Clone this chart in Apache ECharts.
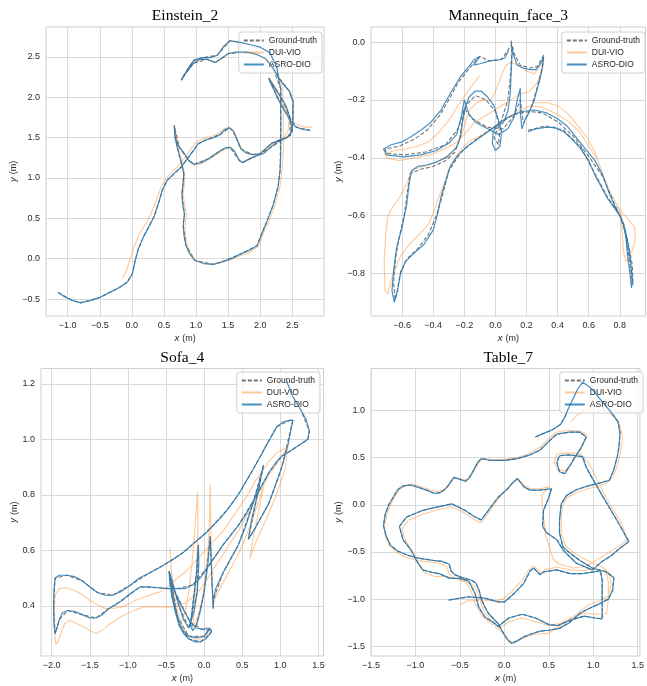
<!DOCTYPE html>
<html><head><meta charset="utf-8">
<script src="https://cdn.jsdelivr.net/npm/echarts@6/dist/echarts.min.js"></script>
<style>html,body{margin:0;padding:0;background:#fff}#c{width:647px;height:686px}</style>
</head><body><div id="c"></div>
<script>
// ---------------- Einstein_2 ----------------
const einsteinAsro = [[-1.15,-0.42],[-1.05,-0.47],[-0.92,-0.52],[-0.8,-0.545],[-0.65,-0.52],[-0.5,-0.48],[-0.35,-0.42],[-0.2,-0.36],[-0.07,-0.29],[0.01,-0.18],[0.05,-0.03],[0.1,0.12],[0.18,0.27],[0.27,0.4],[0.35,0.53],[0.42,0.7],[0.48,0.86],[0.55,0.97],[0.65,1.05],[0.75,1.12],[0.85,1.22],[0.95,1.33],[1.03,1.42],[1.15,1.47],[1.28,1.5],[1.38,1.54],[1.45,1.6],[1.52,1.62],[1.58,1.58],[1.64,1.47],[1.7,1.36],[1.78,1.31],[1.88,1.29],[2.0,1.3],[2.08,1.36],[2.18,1.43],[2.3,1.47],[2.42,1.5],[2.5,1.58],[2.51,1.75],[2.51,1.95],[2.45,2.08],[2.35,2.17],[2.28,2.25],[2.26,2.37],[2.15,2.55],[2.0,2.62],[1.85,2.65],[1.69,2.68],[1.53,2.7],[1.43,2.63],[1.33,2.52],[1.22,2.49],[1.1,2.49],[0.97,2.46],[0.88,2.36],[0.82,2.28],[0.77,2.21],[0.8,2.26],[0.88,2.34],[0.96,2.42],[1.06,2.47],[1.17,2.47],[1.3,2.43],[1.4,2.48],[1.5,2.54],[1.62,2.56],[1.79,2.56],[1.95,2.53],[2.08,2.48],[2.2,2.36],[2.28,2.25],[2.32,2.1],[2.32,1.9],[2.32,1.6],[2.32,1.3],[2.31,1.1],[2.28,0.9],[2.2,0.66],[2.1,0.45],[2.02,0.3],[1.95,0.16],[1.82,0.1],[1.7,0.06],[1.55,0.0],[1.4,-0.04],[1.27,-0.07],[1.12,-0.06],[0.98,-0.02],[0.9,0.06],[0.84,0.17],[0.81,0.3],[0.8,0.42],[0.82,0.55],[0.79,0.68],[0.78,0.8],[0.8,0.95],[0.81,1.05],[0.77,1.2],[0.71,1.37],[0.67,1.5],[0.66,1.65],[0.68,1.48],[0.74,1.38],[0.82,1.3],[0.88,1.22],[0.97,1.17],[1.08,1.19],[1.2,1.24],[1.32,1.31],[1.45,1.37],[1.53,1.38],[1.6,1.33],[1.67,1.22],[1.72,1.19],[1.82,1.23],[1.93,1.27],[2.05,1.3],[2.15,1.37],[2.27,1.45],[2.38,1.49],[2.47,1.53],[2.49,1.62],[2.46,1.76],[2.4,1.9],[2.3,2.03],[2.2,2.15],[2.13,2.24],[2.16,2.18],[2.21,2.1],[2.28,1.97],[2.36,1.86],[2.46,1.72],[2.56,1.63],[2.66,1.6],[2.78,1.59]];
const einsteinGT = [[-1.15,-0.42],[-0.92,-0.52],[-0.8,-0.55],[-0.5,-0.48],[-0.2,-0.36],[-0.07,-0.29],[0.01,-0.18],[0.05,-0.03],[0.1,0.12],[0.18,0.27],[0.35,0.53],[0.42,0.7],[0.48,0.86],[0.55,0.97],[0.75,1.12],[0.95,1.33],[1.03,1.42],[1.15,1.47],[1.38,1.54],[1.52,1.62],[1.58,1.58],[1.7,1.36],[1.88,1.29],[2.0,1.3],[2.18,1.43],[2.42,1.5],[2.5,1.58],[2.51,1.95],[2.45,2.08],[2.28,2.25],[2.26,2.37],[2.15,2.55],[2.0,2.62],[1.69,2.68],[1.53,2.7],[1.33,2.52],[1.1,2.49],[0.97,2.46],[0.82,2.28],[0.77,2.21],[0.88,2.34],[0.96,2.42],[1.17,2.47],[1.3,2.43],[1.5,2.54],[1.79,2.56],[2.08,2.48],[2.2,2.36],[2.32,2.1],[2.32,1.6],[2.31,1.1],[2.28,0.9],[2.2,0.66],[2.02,0.3],[1.95,0.16],[1.7,0.06],[1.4,-0.04],[1.27,-0.07],[0.98,-0.02],[0.84,0.17],[0.8,0.42],[0.82,0.55],[0.78,0.8],[0.81,1.05],[0.71,1.37],[0.66,1.65],[0.74,1.38],[0.88,1.22],[0.97,1.17],[1.2,1.24],[1.45,1.37],[1.53,1.38],[1.67,1.22],[1.72,1.19],[1.93,1.27],[2.15,1.37],[2.38,1.49],[2.47,1.53],[2.46,1.76],[2.3,2.03],[2.13,2.24],[2.21,2.1],[2.36,1.86],[2.56,1.63],[2.78,1.59]];
const einsteinDui = [[-0.15,-0.25],[-0.08,-0.14],[-0.02,0.02],[0.04,0.16],[0.12,0.31],[0.22,0.44],[0.3,0.56],[0.38,0.72],[0.45,0.88],[0.52,0.98],[0.62,1.07],[0.72,1.15],[0.82,1.25],[0.92,1.36],[1.0,1.44],[1.12,1.49],[1.26,1.52],[1.37,1.56],[1.44,1.61],[1.52,1.63],[1.58,1.59],[1.65,1.47],[1.71,1.36],[1.79,1.31],[1.89,1.29],[2.0,1.3],[2.08,1.36],[2.18,1.43],[2.3,1.47],[2.42,1.51],[2.5,1.59],[2.52,1.75],[2.52,1.95],[2.46,2.08],[2.36,2.17],[2.29,2.25],[2.27,2.37],[2.16,2.55],[2.0,2.62],[1.85,2.65],[1.69,2.68],[1.53,2.7],[1.43,2.63],[1.33,2.52],[1.22,2.49],[1.1,2.49],[0.97,2.46],[0.88,2.36],[0.82,2.28],[0.77,2.21],[0.8,2.26],[0.88,2.34],[0.96,2.42],[1.06,2.47],[1.17,2.47],[1.3,2.43],[1.4,2.48],[1.5,2.54],[1.62,2.56],[1.79,2.56],[1.95,2.53],[2.08,2.48],[2.2,2.36],[2.3,2.25],[2.35,2.1],[2.36,1.9],[2.36,1.6],[2.36,1.3],[2.34,1.1],[2.31,0.9],[2.23,0.66],[2.13,0.45],[2.04,0.3],[1.97,0.15],[1.84,0.08],[1.7,0.04],[1.55,-0.01],[1.4,-0.05],[1.27,-0.07],[1.12,-0.06],[0.99,-0.02],[0.92,0.06],[0.86,0.17],[0.83,0.3],[0.83,0.42],[0.85,0.55],[0.82,0.68],[0.8,0.8],[0.82,0.95],[0.82,1.05],[0.78,1.2],[0.72,1.37],[0.68,1.5],[0.67,1.63],[0.69,1.48],[0.75,1.38],[0.83,1.29],[0.89,1.21],[0.98,1.16],[1.09,1.18],[1.21,1.23],[1.33,1.3],[1.46,1.36],[1.54,1.37],[1.61,1.32],[1.68,1.22],[1.73,1.19],[1.83,1.24],[1.94,1.28],[2.06,1.32],[2.16,1.39],[2.28,1.47],[2.39,1.52],[2.44,1.6],[2.45,1.74],[2.4,1.88],[2.31,2.02],[2.21,2.15],[2.14,2.24],[2.17,2.18],[2.23,2.09],[2.3,1.97],[2.38,1.86],[2.42,1.8],[2.48,1.72],[2.58,1.66],[2.68,1.63],[2.8,1.63]];

// ---------------- Mannequin_face_3 ----------------
const mannAsro = [[0.21,-0.31],[0.26,-0.3],[0.32,-0.295],[0.38,-0.295],[0.44,-0.31],[0.5,-0.34],[0.55,-0.37],[0.6,-0.41],[0.64,-0.46],[0.68,-0.5],[0.72,-0.54],[0.76,-0.57],[0.8,-0.6],[0.83,-0.64],[0.85,-0.69],[0.87,-0.76],[0.88,-0.82],[0.875,-0.85],[0.865,-0.8],[0.85,-0.74],[0.84,-0.68],[0.825,-0.63],[0.8,-0.6],[0.77,-0.57],[0.73,-0.52],[0.69,-0.46],[0.64,-0.41],[0.58,-0.37],[0.52,-0.33],[0.46,-0.29],[0.4,-0.265],[0.33,-0.245],[0.25,-0.235],[0.17,-0.24],[0.1,-0.255],[0.05,-0.27],[-0.02,-0.3],[-0.1,-0.33],[-0.18,-0.36],[-0.24,-0.39],[-0.29,-0.43],[-0.32,-0.48],[-0.35,-0.535],[-0.37,-0.59],[-0.4,-0.65],[-0.46,-0.7],[-0.525,-0.73],[-0.58,-0.76],[-0.61,-0.8],[-0.63,-0.86],[-0.65,-0.9],[-0.665,-0.86],[-0.655,-0.79],[-0.635,-0.71],[-0.6,-0.64],[-0.57,-0.56],[-0.555,-0.49],[-0.54,-0.445],[-0.5,-0.43],[-0.44,-0.425],[-0.375,-0.414],[-0.31,-0.397],[-0.25,-0.365],[-0.225,-0.33],[-0.215,-0.29],[-0.2,-0.235],[-0.17,-0.19],[-0.13,-0.17],[-0.09,-0.17],[-0.05,-0.19],[-0.01,-0.22],[0.02,-0.27],[0.04,-0.31],[0.03,-0.36],[0.0,-0.375],[-0.02,-0.35],[-0.015,-0.31],[0.01,-0.29],[0.05,-0.28],[0.08,-0.24],[0.095,-0.18],[0.1,-0.12],[0.105,-0.06],[0.11,-0.02],[0.1,-0.01],[0.12,-0.05],[0.14,-0.08],[0.18,-0.09],[0.22,-0.095],[0.26,-0.095],[0.29,-0.075],[0.31,-0.05],[0.305,-0.08],[0.29,-0.12],[0.27,-0.16],[0.25,-0.2],[0.22,-0.24],[0.19,-0.27],[0.17,-0.3],[0.16,-0.24],[0.16,-0.16],[0.14,-0.2],[0.12,-0.26],[0.08,-0.3],[0.02,-0.32],[-0.05,-0.3],[-0.12,-0.28],[-0.17,-0.25],[-0.2,-0.2],[-0.22,-0.26],[-0.25,-0.32],[-0.3,-0.35],[-0.38,-0.375],[-0.48,-0.39],[-0.59,-0.397],[-0.7,-0.39],[-0.72,-0.37],[-0.67,-0.355],[-0.6,-0.345],[-0.55,-0.33],[-0.48,-0.305],[-0.42,-0.28],[-0.35,-0.235],[-0.29,-0.178],[-0.225,-0.12],[-0.17,-0.085],[-0.14,-0.062],[-0.1,-0.05],[-0.14,-0.08],[-0.1,-0.075],[-0.04,-0.065],[0.02,-0.062],[0.06,-0.055],[0.085,-0.03]];
const mannGT = [[0.21,-0.305],[0.32,-0.29],[0.44,-0.305],[0.55,-0.365],[0.64,-0.455],[0.72,-0.535],[0.8,-0.6],[0.85,-0.685],[0.88,-0.77],[0.885,-0.84],[0.87,-0.79],[0.85,-0.71],[0.825,-0.63],[0.77,-0.565],[0.69,-0.465],[0.6,-0.395],[0.5,-0.325],[0.4,-0.275],[0.3,-0.245],[0.22,-0.24],[0.12,-0.25],[0.0,-0.29],[-0.12,-0.335],[-0.22,-0.38],[-0.3,-0.445],[-0.34,-0.53],[-0.38,-0.6],[-0.43,-0.665],[-0.5,-0.715],[-0.57,-0.75],[-0.61,-0.795],[-0.635,-0.87],[-0.645,-0.89],[-0.655,-0.83],[-0.64,-0.74],[-0.615,-0.665],[-0.585,-0.595],[-0.565,-0.515],[-0.55,-0.455],[-0.48,-0.44],[-0.4,-0.43],[-0.32,-0.41],[-0.26,-0.38],[-0.23,-0.335],[-0.215,-0.28],[-0.19,-0.22],[-0.13,-0.185],[-0.06,-0.2],[0.0,-0.24],[0.03,-0.3],[0.02,-0.355],[-0.01,-0.33],[0.04,-0.27],[0.08,-0.2],[0.1,-0.1],[0.105,-0.03],[0.1,0.005],[0.12,-0.04],[0.16,-0.08],[0.22,-0.09],[0.27,-0.085],[0.31,-0.045],[0.3,-0.09],[0.27,-0.155],[0.23,-0.225],[0.18,-0.28],[0.16,-0.2],[0.12,-0.255],[0.05,-0.3],[-0.05,-0.295],[-0.15,-0.265],[-0.2,-0.23],[-0.24,-0.3],[-0.32,-0.355],[-0.45,-0.38],[-0.58,-0.39],[-0.7,-0.385],[-0.71,-0.37],[-0.62,-0.36],[-0.52,-0.335],[-0.44,-0.305],[-0.36,-0.255],[-0.3,-0.2],[-0.24,-0.14],[-0.18,-0.1],[-0.12,-0.06],[-0.1,-0.05],[-0.04,-0.065],[0.04,-0.06],[0.09,-0.02]];
const mannDui = [[0.24,-0.21],[0.33,-0.21],[0.4,-0.22],[0.47,-0.25],[0.53,-0.29],[0.59,-0.33],[0.64,-0.38],[0.68,-0.44],[0.72,-0.5],[0.76,-0.54],[0.8,-0.58],[0.85,-0.61],[0.895,-0.64],[0.9,-0.68],[0.88,-0.72],[0.86,-0.74],[0.84,-0.76],[0.825,-0.73],[0.815,-0.66],[0.81,-0.6],[0.77,-0.55],[0.73,-0.51],[0.7,-0.47],[0.66,-0.41],[0.6,-0.36],[0.54,-0.31],[0.46,-0.27],[0.38,-0.245],[0.3,-0.225],[0.22,-0.22],[0.15,-0.24],[0.08,-0.26],[0.0,-0.29],[-0.08,-0.32],[-0.16,-0.34],[-0.22,-0.37],[-0.26,-0.4],[-0.3,-0.44],[-0.33,-0.49],[-0.36,-0.53],[-0.39,-0.58],[-0.43,-0.63],[-0.5,-0.67],[-0.57,-0.71],[-0.61,-0.74],[-0.64,-0.78],[-0.67,-0.82],[-0.69,-0.87],[-0.71,-0.86],[-0.715,-0.76],[-0.705,-0.66],[-0.69,-0.6],[-0.66,-0.57],[-0.62,-0.54],[-0.58,-0.5],[-0.55,-0.46],[-0.52,-0.44],[-0.46,-0.43],[-0.4,-0.42],[-0.34,-0.405],[-0.28,-0.38],[-0.24,-0.35],[-0.21,-0.31],[-0.19,-0.27],[-0.16,-0.23],[-0.12,-0.21],[-0.08,-0.2],[-0.03,-0.2],[0.0,-0.17],[0.03,-0.13],[0.05,-0.1],[0.07,-0.08],[0.1,-0.07],[0.15,-0.08],[0.2,-0.1],[0.25,-0.11],[0.28,-0.09],[0.31,-0.06],[0.3,-0.1],[0.27,-0.14],[0.22,-0.17],[0.16,-0.18],[0.1,-0.2],[0.04,-0.22],[-0.02,-0.24],[-0.08,-0.26],[-0.14,-0.28],[-0.2,-0.32],[-0.26,-0.35],[-0.33,-0.37],[-0.42,-0.39],[-0.52,-0.4],[-0.62,-0.41],[-0.7,-0.4],[-0.71,-0.385],[-0.65,-0.375],[-0.58,-0.37],[-0.5,-0.36],[-0.43,-0.345],[-0.36,-0.31],[-0.3,-0.27],[-0.24,-0.22],[-0.19,-0.18],[-0.15,-0.15],[-0.12,-0.13],[-0.1,-0.115]];

// ---------------- Sofa_4 ----------------
const sofaAsro = [[1.08,1.21],[1.17,1.15],[1.26,1.11],[1.34,1.07],[1.38,1.03],[1.36,1.0],[1.28,0.985],[1.2,0.97],[1.12,0.955],[1.02,0.94],[0.95,0.92],[0.85,0.88],[0.75,0.83],[0.65,0.78],[0.55,0.73],[0.45,0.69],[0.35,0.655],[0.25,0.62],[0.15,0.58],[0.05,0.54],[-0.05,0.5],[-0.15,0.475],[-0.25,0.462],[-0.35,0.462],[-0.49,0.462],[-0.6,0.465],[-0.72,0.468],[-0.84,0.468],[-0.95,0.448],[-1.05,0.425],[-1.15,0.405],[-1.25,0.39],[-1.35,0.365],[-1.42,0.356],[-1.5,0.356],[-1.6,0.368],[-1.7,0.38],[-1.79,0.383],[-1.86,0.375],[-1.9,0.35],[-1.93,0.32],[-1.955,0.3],[-1.97,0.33],[-1.975,0.4],[-1.97,0.46],[-1.955,0.5],[-1.9,0.51],[-1.8,0.51],[-1.7,0.505],[-1.6,0.49],[-1.5,0.468],[-1.4,0.448],[-1.3,0.438],[-1.2,0.438],[-1.1,0.45],[-0.97,0.474],[-0.85,0.5],[-0.72,0.518],[-0.6,0.535],[-0.49,0.553],[-0.38,0.572],[-0.27,0.593],[-0.14,0.625],[-0.05,0.645],[0.035,0.665],[0.12,0.69],[0.21,0.715],[0.3,0.745],[0.385,0.775],[0.47,0.81],[0.56,0.853],[0.64,0.89],[0.72,0.93],[0.8,0.97],[0.88,1.01],[0.954,1.045],[1.04,1.063],[1.12,1.068],[1.164,1.069],[1.1,0.98],[1.02,0.9],[0.93,0.83],[0.85,0.77],[0.75,0.72],[0.65,0.67],[0.58,0.64],[0.63,0.72],[0.7,0.8],[0.75,0.87],[0.78,0.907],[0.72,0.84],[0.63,0.76],[0.55,0.69],[0.45,0.62],[0.35,0.57],[0.25,0.52],[0.15,0.46],[0.12,0.42],[0.12,0.39],[0.1,0.5],[0.08,0.65],[0.05,0.55],[0.0,0.45],[-0.05,0.38],[-0.1,0.33],[-0.15,0.31],[-0.18,0.33],[-0.14,0.42],[-0.1,0.52],[-0.075,0.62],[-0.07,0.55],[-0.09,0.45],[-0.13,0.38],[-0.2,0.32],[-0.27,0.35],[-0.33,0.4],[-0.38,0.45],[-0.42,0.49],[-0.46,0.525],[-0.45,0.48],[-0.42,0.43],[-0.38,0.38],[-0.33,0.33],[-0.27,0.3],[-0.2,0.28],[-0.12,0.27],[-0.05,0.27],[0.02,0.28],[0.08,0.3],[0.1,0.31],[0.05,0.32],[-0.02,0.315],[-0.1,0.32],[-0.18,0.34],[-0.3,0.4],[-0.4,0.46],[-0.44,0.5],[-0.4,0.42],[-0.35,0.36],[-0.28,0.31],[-0.2,0.29],[-0.1,0.285],[0.0,0.29],[0.08,0.32]];
const sofaGT = [[1.08,1.21],[1.26,1.11],[1.38,1.03],[1.36,1.0],[1.2,0.97],[1.02,0.94],[0.85,0.88],[0.65,0.78],[0.45,0.69],[0.25,0.62],[0.05,0.54],[-0.15,0.475],[-0.35,0.462],[-0.6,0.465],[-0.84,0.468],[-1.05,0.425],[-1.25,0.39],[-1.42,0.356],[-1.6,0.368],[-1.79,0.383],[-1.9,0.35],[-1.955,0.3],[-1.975,0.4],[-1.955,0.5],[-1.8,0.51],[-1.6,0.49],[-1.4,0.448],[-1.2,0.438],[-0.97,0.474],[-0.72,0.518],[-0.49,0.553],[-0.27,0.593],[-0.05,0.645],[0.12,0.69],[0.3,0.745],[0.47,0.81],[0.64,0.89],[0.8,0.97],[0.954,1.045],[1.12,1.068],[1.164,1.069],[1.02,0.9],[0.85,0.77],[0.65,0.67],[0.58,0.64],[0.7,0.8],[0.78,0.907],[0.63,0.76],[0.45,0.62],[0.25,0.52],[0.12,0.42],[0.12,0.39],[0.08,0.65],[0.0,0.45],[-0.1,0.33],[-0.18,0.33],[-0.1,0.52],[-0.075,0.62],[-0.09,0.45],[-0.2,0.32],[-0.33,0.4],[-0.46,0.525],[-0.42,0.43],[-0.33,0.33],[-0.2,0.28],[-0.05,0.27],[0.08,0.3],[0.1,0.31],[-0.02,0.315],[-0.18,0.34],[-0.4,0.46],[-0.44,0.5],[-0.35,0.36],[-0.2,0.29],[0.0,0.29],[0.08,0.32]];
const sofaDui = [[1.1,0.97],[1.05,0.95],[0.95,0.91],[0.85,0.87],[0.75,0.82],[0.65,0.77],[0.55,0.72],[0.45,0.67],[0.35,0.63],[0.25,0.585],[0.15,0.545],[0.05,0.5],[-0.05,0.46],[-0.15,0.43],[-0.25,0.41],[-0.35,0.4],[-0.45,0.395],[-0.58,0.396],[-0.7,0.396],[-0.8,0.396],[-0.9,0.385],[-1.015,0.372],[-1.12,0.355],[-1.23,0.336],[-1.32,0.315],[-1.41,0.3],[-1.5,0.31],[-1.58,0.324],[-1.68,0.336],[-1.76,0.348],[-1.83,0.335],[-1.88,0.3],[-1.92,0.27],[-1.945,0.26],[-1.96,0.3],[-1.965,0.38],[-1.955,0.44],[-1.9,0.462],[-1.8,0.465],[-1.7,0.455],[-1.6,0.44],[-1.5,0.42],[-1.41,0.405],[-1.3,0.39],[-1.2,0.39],[-1.1,0.395],[-1.0,0.405],[-0.9,0.42],[-0.8,0.43],[-0.7,0.44],[-0.58,0.45],[-0.47,0.47],[-0.35,0.5],[-0.25,0.52],[-0.15,0.55],[-0.05,0.58],[0.05,0.61],[0.15,0.64],[0.25,0.67],[0.35,0.71],[0.45,0.75],[0.55,0.79],[0.65,0.84],[0.75,0.88],[0.85,0.92],[0.95,0.95],[1.05,0.965],[1.09,0.97],[1.07,0.9],[1.0,0.84],[0.92,0.78],[0.83,0.72],[0.76,0.68],[0.68,0.63],[0.6,0.57],[0.64,0.64],[0.7,0.72],[0.75,0.79],[0.78,0.83],[0.72,0.78],[0.62,0.7],[0.52,0.63],[0.42,0.57],[0.32,0.52],[0.22,0.47],[0.15,0.43],[0.12,0.4],[0.1,0.5],[0.09,0.65],[0.08,0.84],[0.07,0.7],[0.05,0.6],[0.02,0.5],[-0.02,0.43],[-0.06,0.38],[-0.1,0.35],[-0.15,0.32],[-0.1,0.5],[-0.08,0.7],[-0.087,0.81],[-0.12,0.68],[-0.16,0.55],[-0.2,0.45],[-0.25,0.38],[-0.3,0.34],[-0.36,0.38],[-0.42,0.5],[-0.45,0.61],[-0.43,0.52],[-0.4,0.45],[-0.35,0.38],[-0.28,0.32],[-0.2,0.29],[-0.12,0.28],[-0.05,0.28],[0.0,0.29],[0.05,0.3],[0.1,0.32]];

// ---------------- Table_7 ----------------
const tableAsro = [[0.35,0.72],[0.45,0.76],[0.55,0.8],[0.63,0.85],[0.68,0.93],[0.72,1.02],[0.77,1.12],[0.82,1.22],[0.88,1.3],[0.97,1.24],[1.06,1.14],[1.14,1.05],[1.21,0.97],[1.28,0.88],[1.3,0.76],[1.29,0.62],[1.27,0.51],[1.23,0.37],[1.18,0.26],[1.07,0.23],[0.94,0.2],[0.81,0.16],[0.7,0.1],[0.64,0.01],[0.62,-0.16],[0.62,-0.3],[0.66,-0.45],[0.75,-0.52],[0.85,-0.59],[0.99,-0.67],[1.14,-0.71],[1.23,-0.77],[1.22,-0.9],[1.17,-1.0],[1.07,-1.05],[0.95,-1.1],[0.85,-1.15],[0.73,-1.25],[0.62,-1.31],[0.5,-1.33],[0.4,-1.34],[0.3,-1.37],[0.22,-1.4],[0.15,-1.44],[0.08,-1.47],[0.03,-1.42],[-0.03,-1.33],[-0.07,-1.26],[-0.13,-1.2],[-0.18,-1.15],[-0.22,-1.08],[-0.26,-1.0],[-0.28,-0.92],[-0.32,-0.83],[-0.37,-0.8],[-0.48,-0.77],[-0.56,-0.74],[-0.6,-0.7],[-0.62,-0.63],[-0.7,-0.6],[-0.8,-0.59],[-0.9,-0.575],[-1.0,-0.56],[-1.1,-0.53],[-1.2,-0.49],[-1.28,-0.43],[-1.33,-0.33],[-1.36,-0.22],[-1.34,-0.1],[-1.3,0.0],[-1.25,0.08],[-1.2,0.16],[-1.14,0.2],[-1.05,0.21],[-0.95,0.18],[-0.86,0.15],[-0.78,0.12],[-0.72,0.13],[-0.66,0.17],[-0.62,0.22],[-0.57,0.29],[-0.5,0.27],[-0.44,0.25],[-0.4,0.28],[-0.35,0.36],[-0.3,0.45],[-0.26,0.49],[-0.15,0.47],[0.0,0.47],[0.15,0.49],[0.29,0.53],[0.4,0.58],[0.51,0.68],[0.59,0.75],[0.73,0.77],[0.85,0.77],[0.92,0.72],[0.86,0.6],[0.79,0.5],[0.74,0.42],[0.68,0.33],[0.62,0.35],[0.59,0.45],[0.62,0.52],[0.72,0.53],[0.88,0.51],[0.92,0.4],[0.99,0.28],[1.1,0.1],[1.2,-0.06],[1.3,-0.22],[1.4,-0.39],[1.3,-0.46],[1.2,-0.54],[1.1,-0.6],[0.99,-0.69],[0.81,-0.62],[0.66,-0.48],[0.59,-0.37],[0.48,-0.3],[0.43,-0.23],[0.44,-0.06],[0.5,0.08],[0.53,0.17],[0.4,0.155],[0.29,0.155],[0.22,0.19],[0.147,0.28],[0.08,0.22],[0.037,0.17],[-0.07,0.08],[-0.18,-0.06],[-0.26,-0.16],[-0.33,-0.13],[-0.44,-0.06],[-0.59,0.01],[-0.735,-0.02],[-0.92,-0.06],[-1.1,-0.13],[-1.18,-0.23],[-1.14,-0.37],[-1.05,-0.48],[-0.99,-0.59],[-0.92,-0.69],[-0.8,-0.72],[-0.735,-0.73],[-0.61,-0.78],[-0.5,-0.78],[-0.4,-0.81],[-0.33,-0.94],[-0.29,-1.08],[-0.22,-1.19],[-0.12,-1.25],[-0.07,-1.29],[0.05,-1.2],[0.2,-1.16],[0.35,-1.2],[0.5,-1.27],[0.6,-1.28],[0.75,-1.22],[0.9,-1.18],[1.02,-1.2],[1.1,-1.21],[1.1,-1.0],[1.1,-0.8],[1.08,-0.7],[0.88,-0.73],[0.74,-0.73],[0.59,-0.69],[0.45,-0.71],[0.4,-0.74],[0.36,-0.7],[0.33,-0.67],[0.29,-0.7],[0.22,-0.83],[0.11,-0.94],[0.0,-1.03],[-0.07,-1.03],[-0.22,-0.99],[-0.4,-0.975],[-0.63,-1.01]];
const tableGT = [[0.35,0.72],[0.45,0.76],[0.55,0.8],[0.63,0.85],[0.68,0.93],[0.72,1.02],[0.77,1.12],[0.82,1.22],[0.88,1.3],[0.97,1.24],[1.06,1.14],[1.14,1.05],[1.21,0.97],[1.28,0.88],[1.3,0.76],[1.29,0.62],[1.27,0.51],[1.23,0.37],[1.18,0.26],[1.07,0.23],[0.94,0.2],[0.81,0.16],[0.7,0.1],[0.64,0.01],[0.62,-0.16],[0.62,-0.3],[0.66,-0.45],[0.75,-0.52],[0.85,-0.59],[0.99,-0.67],[1.14,-0.71],[1.23,-0.77],[1.22,-0.9],[1.17,-1.0],[1.07,-1.05],[0.95,-1.1],[0.85,-1.15],[0.73,-1.25],[0.62,-1.31],[0.5,-1.33],[0.4,-1.34],[0.3,-1.37],[0.22,-1.4],[0.15,-1.44],[0.08,-1.47],[0.03,-1.42],[-0.03,-1.33],[-0.07,-1.26],[-0.13,-1.2],[-0.18,-1.15],[-0.22,-1.08],[-0.26,-1.0],[-0.28,-0.92],[-0.32,-0.83],[-0.37,-0.8],[-0.48,-0.77],[-0.56,-0.74],[-0.6,-0.7],[-0.62,-0.63],[-0.7,-0.6],[-0.8,-0.59],[-0.9,-0.575],[-1.0,-0.56],[-1.1,-0.53],[-1.2,-0.49],[-1.28,-0.43],[-1.33,-0.33],[-1.36,-0.22],[-1.34,-0.1],[-1.3,0.0],[-1.25,0.08],[-1.2,0.16],[-1.14,0.2],[-1.05,0.21],[-0.95,0.18],[-0.86,0.15],[-0.78,0.12],[-0.72,0.13],[-0.66,0.17],[-0.62,0.22],[-0.57,0.29],[-0.5,0.27],[-0.44,0.25],[-0.4,0.28],[-0.35,0.36],[-0.3,0.45],[-0.26,0.49],[-0.15,0.47],[0.0,0.47],[0.15,0.49],[0.29,0.53],[0.4,0.58],[0.51,0.68],[0.59,0.75],[0.73,0.77],[0.85,0.77],[0.92,0.72],[0.86,0.6],[0.79,0.5],[0.74,0.42],[0.68,0.33],[0.62,0.35],[0.59,0.45],[0.62,0.52],[0.72,0.53],[0.88,0.51],[0.92,0.4],[0.99,0.28],[1.1,0.1],[1.2,-0.06],[1.3,-0.22],[1.4,-0.39],[1.3,-0.46],[1.2,-0.54],[1.1,-0.6],[0.99,-0.69],[0.81,-0.62],[0.66,-0.48],[0.59,-0.37],[0.48,-0.3],[0.43,-0.23],[0.44,-0.06],[0.5,0.08],[0.53,0.17],[0.4,0.155],[0.29,0.155],[0.22,0.19],[0.147,0.28],[0.08,0.22],[0.037,0.17],[-0.07,0.08],[-0.18,-0.06],[-0.26,-0.16],[-0.33,-0.13],[-0.44,-0.06],[-0.59,0.01],[-0.735,-0.02],[-0.92,-0.06],[-1.1,-0.13],[-1.18,-0.23],[-1.14,-0.37],[-1.05,-0.48],[-0.99,-0.59],[-0.92,-0.69],[-0.8,-0.72],[-0.735,-0.73],[-0.61,-0.78],[-0.5,-0.78],[-0.4,-0.81],[-0.33,-0.94],[-0.29,-1.08],[-0.22,-1.19],[-0.12,-1.25],[-0.07,-1.29],[0.05,-1.2],[0.2,-1.16],[0.35,-1.2],[0.5,-1.27],[0.6,-1.28],[0.75,-1.22],[0.9,-1.18],[1.02,-1.2],[1.1,-1.21],[1.1,-1.0],[1.1,-0.8],[1.08,-0.7],[0.88,-0.73],[0.74,-0.73],[0.59,-0.69],[0.45,-0.71],[0.4,-0.74],[0.36,-0.7],[0.33,-0.67],[0.29,-0.7],[0.22,-0.83],[0.11,-0.94],[0.0,-1.03],[-0.07,-1.03],[-0.22,-0.99],[-0.4,-0.975],[-0.63,-1.01]];
const tableDui = [[0.75,0.88],[0.82,0.95],[0.9,1.0],[0.98,1.04],[1.07,1.05],[1.15,1.0],[1.23,0.93],[1.3,0.84],[1.33,0.72],[1.31,0.58],[1.28,0.45],[1.24,0.33],[1.17,0.24],[1.07,0.2],[0.94,0.17],[0.81,0.13],[0.7,0.07],[0.65,-0.02],[0.64,-0.16],[0.64,-0.3],[0.69,-0.44],[0.77,-0.5],[0.87,-0.56],[1.0,-0.62],[1.1,-0.66],[1.18,-0.72],[1.2,-0.84],[1.17,-0.97],[1.07,-1.02],[0.95,-1.06],[0.85,-1.13],[0.73,-1.22],[0.62,-1.29],[0.5,-1.36],[0.4,-1.37],[0.3,-1.38],[0.2,-1.42],[0.12,-1.46],[0.05,-1.45],[-0.02,-1.36],[-0.07,-1.29],[-0.13,-1.23],[-0.2,-1.17],[-0.24,-1.1],[-0.27,-1.02],[-0.3,-0.93],[-0.34,-0.86],[-0.4,-0.83],[-0.5,-0.8],[-0.58,-0.77],[-0.62,-0.73],[-0.65,-0.66],[-0.72,-0.62],[-0.82,-0.61],[-0.92,-0.6],[-1.02,-0.58],[-1.12,-0.55],[-1.22,-0.5],[-1.3,-0.43],[-1.34,-0.33],[-1.35,-0.22],[-1.32,-0.1],[-1.28,0.0],[-1.23,0.09],[-1.17,0.17],[-1.1,0.21],[-1.02,0.22],[-0.93,0.19],[-0.84,0.16],[-0.76,0.14],[-0.7,0.15],[-0.64,0.19],[-0.6,0.24],[-0.55,0.29],[-0.48,0.27],[-0.42,0.26],[-0.38,0.3],[-0.33,0.38],[-0.28,0.46],[-0.24,0.49],[-0.13,0.48],[0.0,0.48],[0.15,0.5],[0.29,0.55],[0.4,0.61],[0.5,0.7],[0.58,0.77],[0.72,0.79],[0.86,0.78],[0.93,0.74],[0.88,0.62],[0.81,0.52],[0.75,0.43],[0.68,0.36],[0.6,0.37],[0.56,0.45],[0.59,0.54],[0.72,0.55],[0.86,0.54],[0.95,0.44],[1.02,0.31],[1.12,0.12],[1.22,-0.05],[1.32,-0.2],[1.38,-0.37],[1.3,-0.43],[1.18,-0.5],[1.08,-0.56],[0.98,-0.62],[0.88,-0.66],[0.78,-0.67],[0.62,-0.63],[0.55,-0.58],[0.5,-0.43],[0.46,-0.3],[0.45,-0.2],[0.43,-0.05],[0.42,0.1],[0.5,0.19],[0.4,0.17],[0.29,0.17],[0.22,0.21],[0.15,0.27],[0.08,0.22],[0.02,0.16],[-0.08,0.05],[-0.18,-0.09],[-0.26,-0.19],[-0.33,-0.16],[-0.44,-0.09],[-0.59,-0.02],[-0.74,-0.05],[-0.92,-0.1],[-1.08,-0.16],[-1.15,-0.26],[-1.11,-0.38],[-1.03,-0.5],[-0.97,-0.62],[-0.9,-0.72],[-0.78,-0.76],[-0.66,-0.76],[-0.55,-0.78],[-0.45,-0.8],[-0.38,-0.9],[-0.33,-1.05],[-0.25,-1.18],[-0.15,-1.26],[-0.07,-1.32],[0.05,-1.24],[0.2,-1.2],[0.35,-1.24],[0.5,-1.28],[0.62,-1.26],[0.76,-1.19],[0.9,-1.15],[1.02,-1.16],[1.15,-1.15],[1.17,-1.0],[1.17,-0.82],[1.14,-0.7],[1.0,-0.68],[0.86,-0.7],[0.74,-0.69],[0.59,-0.66],[0.46,-0.69],[0.4,-0.72],[0.36,-0.67],[0.33,-0.65],[0.28,-0.68],[0.2,-0.8],[0.08,-0.92],[-0.02,-1.0],[-0.1,-1.02],[-0.25,-1.01],[-0.42,-1.02],[-0.5,-1.06]];

// ---------------- tick labels ----------------
const einsteinXTicks = [-1.0,-0.5,0.0,0.5,1.0,1.5,2.0,2.5];
const einsteinYTicks = [-0.5,0.0,0.5,1.0,1.5,2.0,2.5];
const mannXTicks = [-0.6,-0.4,-0.2,0.0,0.2,0.4,0.6,0.8];
const mannYTicks = [-0.8,-0.6,-0.4,-0.2,0.0];
const sofaXTicks = [-2.0,-1.5,-1.0,-0.5,0.0,0.5,1.0,1.5];
const sofaYTicks = [0.4,0.6,0.8,1.0,1.2];
const tableXTicks = [-1.5,-1.0,-0.5,0.0,0.5,1.0,1.5];
const tableYTicks = [-1.5,-1.0,-0.5,0.0,0.5,1.0];
const seriesNames = ['Ground-truth','DUI-VIO','ASRO-DIO'];

const panels = [
  {title:'Einstein_2', left:46, top:27, w:278, h:289, xr:[-1.338,2.994], yr:[-0.71,2.87], xt:einsteinXTicks, yt:einsteinYTicks, gt:einsteinGT, dui:einsteinDui, asro:einsteinAsro, lgRight:325, lgTop:32, yGap:26},
  {title:'Mannequin_face_3', left:371, top:27, w:274.5, h:289, xr:[-0.80,0.965], yr:[-0.947,0.052], xt:mannXTicks, yt:mannYTicks, gt:mannGT, dui:mannDui, asro:mannAsro, lgRight:2, lgTop:32, yGap:26},
  {title:'Sofa_4', left:41, top:368.5, w:282.5, h:287.5, xr:[-2.14,1.566], yr:[0.219,1.255], xt:sofaXTicks, yt:sofaYTicks, gt:sofaGT, dui:sofaDui, asro:sofaAsro, lgRight:327, lgTop:372, yGap:21},
  {title:'Table_7', left:371, top:368.5, w:274.5, h:287.5, xr:[-1.5,1.525], yr:[-1.603,1.445], xt:tableXTicks, yt:tableYTicks, gt:tableGT, dui:tableDui, asro:tableAsro, lgRight:4, lgTop:372, yGap:26}
];

const fmt = v => (Math.round(v*10)/10).toFixed(1).replace('-', '\u2212');
const sans = 'Liberation Sans, Arial, sans-serif';
const labelColor = '#2b2b2b';
const gridLine = '#d9d9d9';
const styles = [
  {color:'rgba(80,80,80,0.8)', width:1.1, type:[4,2]},
  {color:'rgba(255,127,14,0.42)', width:1.1, type:'solid'},
  {color:'rgba(31,119,180,0.82)', width:1.2, type:'solid'}
];

const option = {
  animation:false,
  backgroundColor:'#fff',
  title: panels.map(p => ({
    text:p.title, left:p.left + p.w/2, top:p.top - 19, textAlign:'center', padding:0,
    textStyle:{fontFamily:'Liberation Serif, Times New Roman, serif', fontSize:15.5, fontWeight:'normal', color:'#000'}
  })),
  grid: panels.map(p => ({left:p.left, top:p.top, width:p.w, height:p.h, show:true, borderColor:'#cfcfcf', borderWidth:1, backgroundColor:'#fff'})),
  xAxis: panels.map((p,i) => ({
    type:'value', gridIndex:i, min:p.xr[0], max:p.xr[1],
    axisLine:{show:false}, axisTick:{show:false, customValues:p.xt},
    axisLabel:{customValues:p.xt, formatter:fmt, color:labelColor, fontSize:9, fontFamily:sans, margin:5},
    splitLine:{show:true, lineStyle:{color:gridLine, width:1}},
    name:'{i|x} (m)', nameLocation:'middle', nameGap:18,
    nameTextStyle:{color:labelColor, fontSize:9, fontFamily:sans, rich:{i:{fontStyle:'italic', fontSize:9, fontFamily:'DejaVu Sans', color:labelColor}}}
  })),
  yAxis: panels.map((p,i) => ({
    type:'value', gridIndex:i, min:p.yr[0], max:p.yr[1],
    axisLine:{show:false}, axisTick:{show:false, customValues:p.yt},
    axisLabel:{customValues:p.yt, formatter:fmt, color:labelColor, fontSize:9, fontFamily:sans, margin:6},
    splitLine:{show:true, lineStyle:{color:gridLine, width:1}},
    name:'{i|y} (m)', nameLocation:'middle', nameGap:p.yGap,
    nameTextStyle:{color:labelColor, fontSize:9, fontFamily:sans, rich:{i:{fontStyle:'italic', fontSize:9, fontFamily:'DejaVu Sans', color:labelColor}}}
  })),
  legend: panels.map(p => ({
    data:seriesNames, orient:'vertical', right:p.lgRight, top:p.lgTop,
    itemWidth:20, itemHeight:9, itemGap:3, padding:[4,5,4,4],
    itemStyle:{opacity:0, borderWidth:0},
    backgroundColor:'rgba(255,255,255,0.8)', borderColor:'#d0d0d0', borderWidth:1, borderRadius:3,
    textStyle:{fontSize:8.5, color:'#262626', fontFamily:sans}, selectedMode:false
  })),
  series: []
};

panels.forEach((p,i) => {
  [p.gt, p.dui, p.asro].forEach((d,k) => {
    option.series.push({
      name:seriesNames[k], type:'line', xAxisIndex:i, yAxisIndex:i, data:d,
      symbol:'none', showSymbol:false, silent:true, clip:true, z:2+k,
      color:styles[k].color, lineStyle:styles[k], itemStyle:{color:styles[k].color}
    });
  });
});

const chart = echarts.init(document.getElementById('c'), null, {renderer:'canvas'});
chart.setOption(option);
</script>
</body></html>
